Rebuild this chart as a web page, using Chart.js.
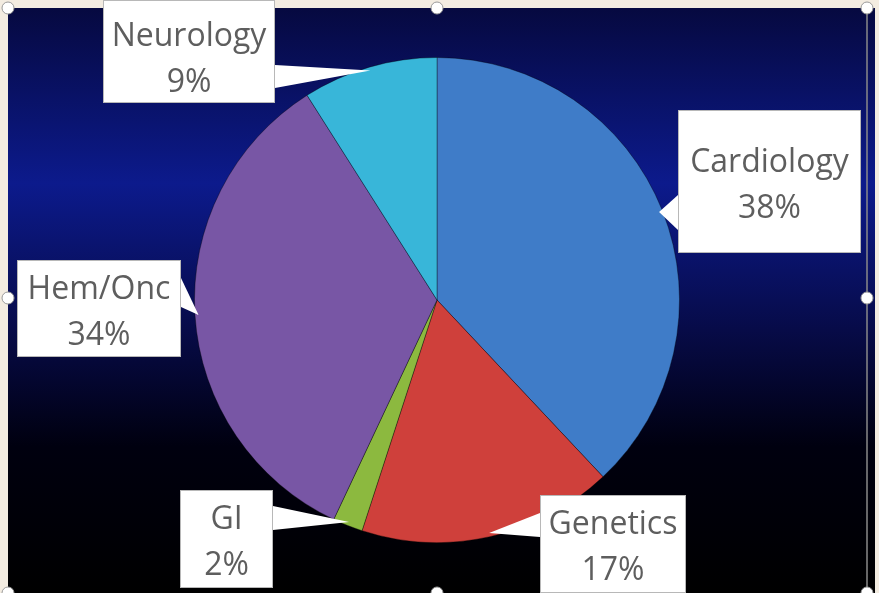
<!DOCTYPE html>
<html>
<head>
<meta charset="utf-8">
<script src="https://cdn.jsdelivr.net/npm/chart.js"></script>
<style>
  html, body { margin: 0; padding: 0; background: #f3ece1; }
  #wrap { width: 879px; height: 593px; }
</style>
</head>
<body>
<div id="wrap"><canvas id="myChart" width="879" height="593"></canvas></div>
<script>
  const labels = ['Cardiology', 'Genetics', 'GI', 'Hem/Onc', 'Neurology'];
  const values = [38, 17, 2, 34, 9];
  const colors = ['#3f7cc8', '#cf403b', '#8cb93f', '#7856a5', '#38b6d9'];

  // callout boxes (x, y, w, h), which side the pointer leaves from, pointer base
  const boxes = [
    { x: 678, y: 110, w: 183, h: 143, side: 'left', b1: 195, b2: 230 },
    { x: 540, y: 495, w: 146, h: 98, side: 'left', b1: 513, b2: 537 },
    { x: 180, y: 490, w: 93, h: 98, side: 'right', b1: 506, b2: 530 },
    { x: 17, y: 260, w: 164, h: 97, side: 'right', b1: 278, b2: 307 },
    { x: 103, y: 0, w: 172, h: 103, side: 'right', b1: 65, b2: 88 }
  ];

  const background = {
    id: 'background',
    beforeDraw(chart) {
      const c = chart.ctx;
      c.save();
      c.fillStyle = '#f3ece1';
      c.fillRect(0, 0, chart.width, chart.height);
      const g = c.createLinearGradient(0, 8, 0, 593);
      g.addColorStop(0, '#060940');
      g.addColorStop(0.3, '#0c1a8c');
      g.addColorStop(0.55, '#070b48');
      g.addColorStop(0.75, '#00000f');
      g.addColorStop(1, '#000000');
      c.fillStyle = g;
      c.fillRect(8, 8, 867, 585);
      c.restore();
    }
  };

  const callouts = {
    id: 'callouts',
    afterDraw(chart) {
      const c = chart.ctx;
      const arcs = chart.getDatasetMeta(0).data;
      const total = values.reduce((a, b) => a + b, 0);
      c.save();
      boxes.forEach((b, i) => {
        const arc = arcs[i];
        const mid = (arc.startAngle + arc.endAngle) / 2;
        const tx = arc.x + Math.cos(mid) * arc.outerRadius * 0.985;
        const ty = arc.y + Math.sin(mid) * arc.outerRadius * 0.985;
        const ex = b.side === 'left' ? b.x : b.x + b.w;
        c.fillStyle = '#ffffff';
        c.strokeStyle = '#b8b8b8';
        c.lineWidth = 1;
        c.fillRect(b.x, b.y, b.w, b.h);
        c.strokeRect(b.x + 0.5, b.y + 0.5, b.w - 1, b.h - 1);
        c.beginPath();
        c.moveTo(ex, b.b1);
        c.lineTo(tx, ty);
        c.lineTo(ex, b.b2);
        c.closePath();
        c.fill();
        c.fillStyle = '#5e5e5e';
        c.font = '32px "Open Sans"';
        c.textAlign = 'center';
        c.textBaseline = 'middle';
        const cx = b.x + b.w / 2;
        const pct = Math.round(values[i] / total * 100) + '%';
        const top = b.y === 0 ? 8 : b.y;
        const cy = top + (b.y + b.h - top) / 2;
        c.fillText(labels[i], cx, cy - 19);
        c.fillText(pct, cx, cy + 27);
      });
      c.restore();
    }
  };

  const handles = {
    id: 'handles',
    afterDraw(chart) {
      const c = chart.ctx;
      c.save();
      c.strokeStyle = '#8a8a8a';
      c.lineWidth = 1.5;
      c.beginPath();
      c.moveTo(867, 8);
      c.lineTo(867, 593);
      c.stroke();
      [[8, 8], [437, 8], [867, 8], [8, 298], [867, 298], [8, 593], [437, 593], [867, 593]].forEach(p => {
        c.beginPath();
        c.arc(p[0], p[1], 6, 0, Math.PI * 2);
        c.fillStyle = '#ffffff';
        c.fill();
        c.strokeStyle = '#9a9a9a';
        c.lineWidth = 1;
        c.stroke();
      });
      c.restore();
    }
  };

  const ctx = document.getElementById('myChart');
  new Chart(ctx, {
    type: 'pie',
    data: {
      labels: labels,
      datasets: [{
        data: values,
        backgroundColor: colors,
        borderColor: 'rgba(0,0,0,0.35)',
        borderWidth: 1
      }]
    },
    options: {
      responsive: false,
      animation: false,
      layout: { padding: { top: 57, bottom: 50, left: 194, right: 199 } },
      plugins: {
        legend: { display: false },
        tooltip: { enabled: false }
      }
    },
    plugins: [background, callouts, handles]
  });
</script>
</body>
</html>
